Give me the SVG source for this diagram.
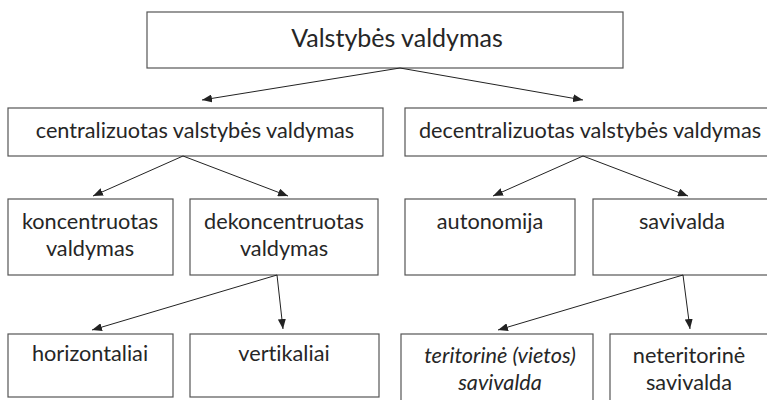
<svg xmlns="http://www.w3.org/2000/svg" width="767" height="400" viewBox="0 0 767 400">
<style>
.box{fill:#fff;stroke:#555;stroke-width:1.2}
.t{font-family:Lato,"Open Sans","Liberation Sans",sans-serif;font-size:21.7px;fill:#262626;text-anchor:middle;font-variant-ligatures:none;font-feature-settings:"liga" 0}
.big{font-size:25px}
.it{font-style:italic}
.c{stroke:#222;stroke-width:1;fill:none;marker-end:url(#ah)}
</style>
<defs>
<marker id="ah" viewBox="0 0 10 8" refX="10" refY="4" markerWidth="10" markerHeight="8" markerUnits="userSpaceOnUse" orient="auto">
<path d="M0,0 L10,4 L0,8 Z" fill="#222"/>
</marker>
</defs>
<g id="n-root"><rect class="box" x="147" y="12" width="476" height="56"/><text class="t big" x="397" y="47">Valstybės valdymas</text></g>
<g id="n-central"><rect class="box" x="8" y="108" width="375" height="48"/><text class="t" x="195" y="138">centralizuotas valstybės valdymas</text></g>
<g id="n-decentral"><rect class="box" x="405" y="108" width="370" height="48"/><text class="t" x="590" y="138">decentralizuotas valstybės valdymas</text></g>
<g id="n-konc"><rect class="box" x="8" y="199" width="165" height="76"/><text class="t" x="90" y="229">koncentruotas</text><text class="t" x="90" y="256">valdymas</text></g>
<g id="n-dekonc"><rect class="box" x="190" y="199" width="188" height="76"/><text class="t" x="284" y="229">dekoncentruotas</text><text class="t" x="284" y="256">valdymas</text></g>
<g id="n-auton"><rect class="box" x="405" y="199" width="170" height="76"/><text class="t" x="490" y="229">autonomija</text></g>
<g id="n-saviv"><rect class="box" x="593" y="199" width="182" height="76"/><text class="t" x="682" y="229">savivalda</text></g>
<g id="n-horiz"><rect class="box" x="8" y="334" width="165" height="63"/><text class="t" x="90" y="361">horizontaliai</text></g>
<g id="n-vert"><rect class="box" x="190" y="334" width="189" height="63"/><text class="t" x="284" y="361">vertikaliai</text></g>
<g id="n-terit"><rect class="box" x="401" y="334" width="192" height="75"/><text class="t it" x="500" y="363">teritorinė (vietos)</text><text class="t it" x="500" y="390">savivalda</text></g>
<g id="n-neterit"><rect class="box" x="610" y="334" width="165" height="75"/><text class="t" x="689" y="363">neteritorinė</text><text class="t" x="689" y="390">savivalda</text></g>
<g id="connectors">
<line class="c" x1="400" y1="68" x2="202" y2="100"/>
<line class="c" x1="400" y1="68" x2="583" y2="100"/>
<line class="c" x1="183" y1="156" x2="93" y2="196"/>
<line class="c" x1="183" y1="156" x2="288" y2="196"/>
<line class="c" x1="583" y1="156" x2="493" y2="196"/>
<line class="c" x1="583" y1="156" x2="688" y2="196"/>
<line class="c" x1="277" y1="275" x2="92" y2="330"/>
<line class="c" x1="277" y1="275" x2="283" y2="329"/>
<line class="c" x1="683" y1="275" x2="498" y2="330"/>
<line class="c" x1="683" y1="275" x2="690" y2="329"/>
</g>
</svg>
